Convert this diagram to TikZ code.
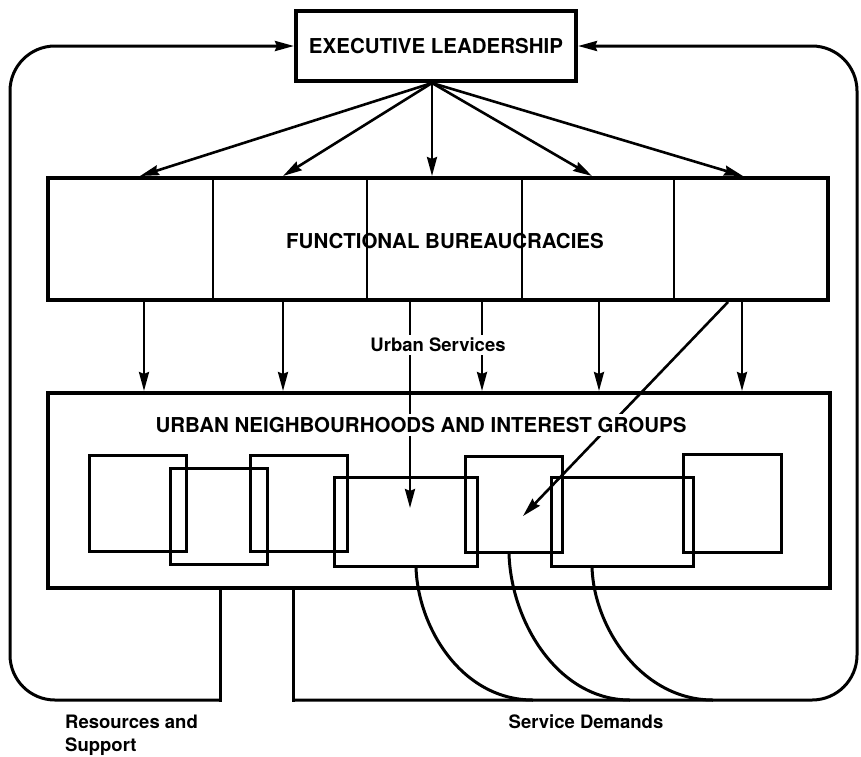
\documentclass[tikz,border=0pt]{standalone}
\usepackage{fontspec}
\setmainfont{TeX Gyre Heros}
\usetikzlibrary{arrows.meta}

\begin{document}
\begin{tikzpicture}
[x=1pt,y=-1pt,every node/.style={inner sep=0pt},
 bigbox/.style={draw,line width=4pt},
 grp/.style={draw,line width=3pt,minimum width=97pt,minimum height=96pt},
 caps/.style={font=\fontsize{20.5}{25}\selectfont\bfseries},
 lbl/.style={font=\fontsize{18.5}{23}\selectfont\bfseries},
 tip/.style={-{Stealth[length=19pt,width=10pt,inset=2pt]}},
 arr/.style={tip,line width=2.6pt},
 loopline/.style={line width=3pt}]
\fill[white] (0,0) rectangle (861,756);
\useasboundingbox (0,0) rectangle (861,756);
% the three levels
\node[bigbox,caps,minimum width=280pt,minimum height=70pt] (ex) at (436,46) {EXECUTIVE LEADERSHIP};
\node[bigbox,minimum width=780pt,minimum height=122pt] (fb) at (438,239) {};
\node[bigbox,minimum width=782pt,minimum height=195pt] (ub) at (439,490.5) {};
\foreach \x in {213,367,522,674}
\draw[line width=2.8pt] (\x,0 |- fb.north) -- (\x,0 |- fb.south);
\node[caps] (fbl) at (445,241) {FUNCTIONAL BUREAUCRACIES};
% neighbourhoods and groups
\node[grp] (g1) at (138,503) {};
\node[grp] (g2) at (218.5,516.5) {};
\node[grp] (g3) at (298.5,503) {};
\node[grp,minimum width=143pt,minimum height=89pt] (g4) at (405.5,521.5) {};
\node[grp] (g5) at (513.5,504) {};
\node[grp,minimum width=142pt,minimum height=89pt] (g6) at (622,521.5) {};
\node[grp,minimum width=98pt,minimum height=98pt] (g7) at (732,503) {};
% arrows
\coordinate (ap) at ([xshift=-4pt]ex.south);
\foreach \x in {140,283,432,592,743}
\draw[arr] (ap) -- (\x,0 |- fb.north);
\foreach \x in {144,283,482,599,742}
\draw[arr] (\x,0 |- fb.south) -- (\x,0 |- ub.north);
\coordinate (s4) at (410,508);
\coordinate (s5) at (523,516);
\draw[arr] (410,0 |- fb.south) -- (s4);
\draw[arr] (728,0 |- fb.south) -- (s5);
% feedback loops
\coordinate (rs) at (220,0 |- ub.south);
\coordinate (rb) at (220,700);
\draw[loopline,line cap=rect] (rs) -- (rb);
\draw[loopline,tip,rounded corners=45pt] (rb) -- (10,700) -- (10,46) -- (ex.west);
\coordinate (sd) at (293,0 |- ub.south);
\coordinate (sb) at (293,700);
\draw[loopline,line cap=rect] (sd) -- (sb);
\draw[loopline,tip,rounded corners=45pt] (sb) -- (857,700) -- (857,46) -- (ex.east);
% demands
\draw[loopline] (416,0 |- g4.south) .. controls (418,628) and (462,700) .. (533,700);
\draw[loopline] (509,0 |- g5.south) .. controls (511,622) and (558,700) .. (630,700);
\draw[loopline] (592,0 |- g6.south) .. controls (594,628) and (642,700) .. (713,700);
% labels
\node[caps,fill=white,inner sep=3pt] (ubl) at (421,425) {URBAN NEIGHBOURHOODS AND INTEREST GROUPS};
\node[lbl,fill=white,inner sep=3pt] (usl) at (438,345) {Urban Services};
\node[lbl] (sdl) at (586,722) {Service Demands};
\node[lbl,align=left,anchor=north west] (rsl) at (65,715) {Resources and\\Support};
\end{tikzpicture}
\end{document}
